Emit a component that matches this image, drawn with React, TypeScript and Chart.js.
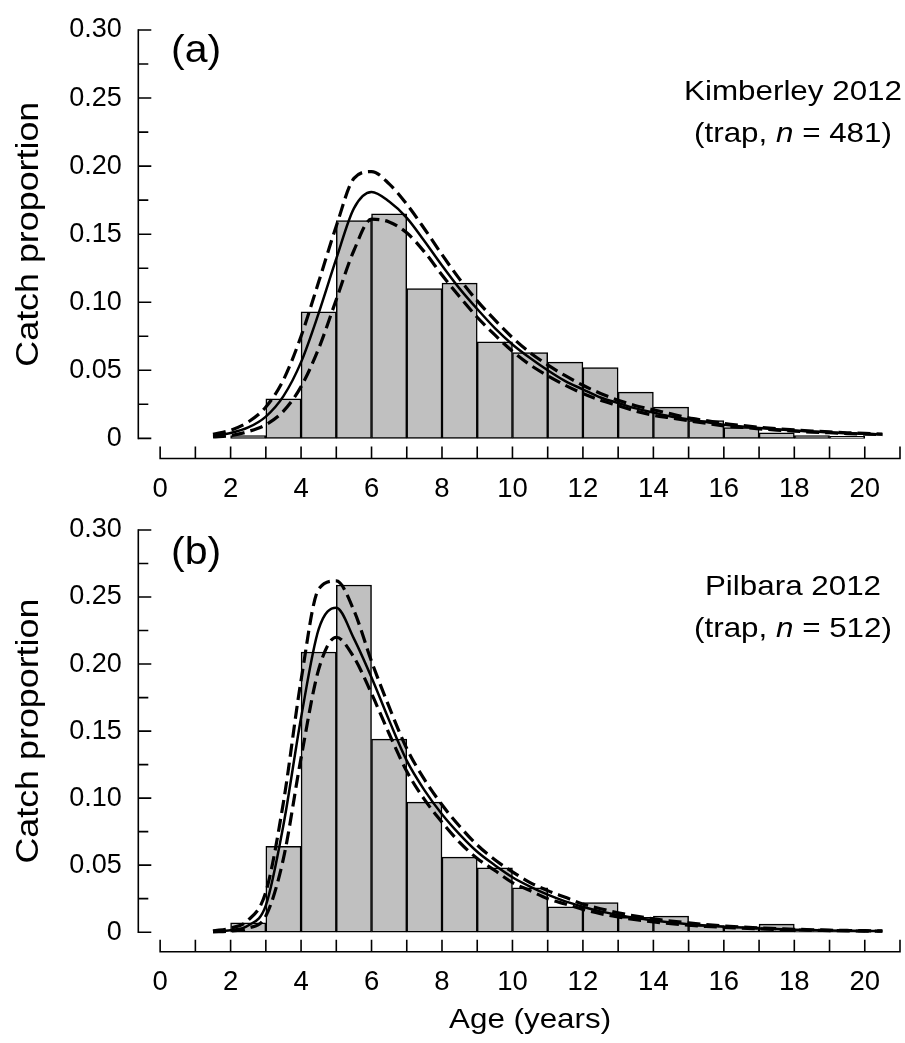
import React, { useEffect, useRef } from "react";
import { Chart, registerables } from "chart.js";

Chart.register(...registerables);

const FONT = "'Liberation Sans', Arial, sans-serif";

// ---- data ----
const binStarts = [2, 3, 4, 5, 6, 7, 8, 9, 10, 11, 12, 13, 14, 15, 16, 17, 18, 19];
const kimberleyProp = [0.002, 0.029, 0.093, 0.160, 0.165, 0.110, 0.114, 0.071, 0.063, 0.056, 0.052, 0.034, 0.023, 0.013, 0.008, 0.004, 0.002, 0.0015];
const pilbaraProp = [0.007, 0.064, 0.209, 0.259, 0.144, 0.097, 0.056, 0.048, 0.033, 0.019, 0.022, 0.011, 0.012, 0.005, 0.004, 0.006, 0.002, 0.001];

const fitAges = [1.5, 2, 2.5, 3, 3.5, 4, 4.5, 5, 5.5, 6, 6.5, 7, 7.5, 8, 8.5, 9, 9.5, 10, 10.5, 11, 11.5, 12, 12.5, 13, 13.5, 14, 14.5, 15, 15.5, 16, 16.5, 17, 17.5, 18, 18.5, 19, 19.5, 20, 20.5];

const kimberleyFit = [0.002, 0.004, 0.008, 0.016, 0.031, 0.056, 0.092, 0.132, 0.169, 0.181, 0.174, 0.162, 0.145, 0.127, 0.110, 0.095, 0.081, 0.069, 0.059, 0.050, 0.042, 0.036, 0.030, 0.026, 0.022, 0.019, 0.016, 0.014, 0.012, 0.010, 0.0088, 0.0076, 0.0066, 0.0057, 0.0050, 0.0044, 0.0038, 0.0033, 0.0029];
const kimberleyUpper = [0.003, 0.006, 0.012, 0.023, 0.043, 0.075, 0.115, 0.156, 0.191, 0.196, 0.187, 0.172, 0.154, 0.135, 0.117, 0.101, 0.087, 0.074, 0.063, 0.054, 0.046, 0.039, 0.033, 0.028, 0.024, 0.021, 0.018, 0.015, 0.013, 0.011, 0.0095, 0.0082, 0.0071, 0.0062, 0.0054, 0.0047, 0.0041, 0.0036, 0.0031];
const kimberleyLower = [0.001, 0.002, 0.005, 0.010, 0.020, 0.038, 0.066, 0.102, 0.138, 0.161, 0.159, 0.151, 0.137, 0.120, 0.104, 0.089, 0.076, 0.064, 0.054, 0.046, 0.039, 0.033, 0.028, 0.024, 0.020, 0.017, 0.015, 0.013, 0.011, 0.0092, 0.0081, 0.0070, 0.0061, 0.0053, 0.0046, 0.0041, 0.0035, 0.0031, 0.0027];

const pilbaraFit = [0.0005, 0.0015, 0.005, 0.020, 0.080, 0.160, 0.226, 0.242, 0.219, 0.190, 0.158, 0.128, 0.106, 0.088, 0.073, 0.060, 0.050, 0.041, 0.034, 0.028, 0.023, 0.019, 0.0155, 0.0128, 0.0105, 0.0087, 0.0072, 0.0060, 0.0050, 0.0041, 0.0034, 0.0028, 0.0023, 0.0019, 0.0016, 0.0013, 0.0011, 0.0009, 0.0008];
const pilbaraUpper = [0.001, 0.003, 0.009, 0.030, 0.097, 0.188, 0.256, 0.262, 0.240, 0.202, 0.168, 0.137, 0.114, 0.095, 0.079, 0.065, 0.054, 0.045, 0.037, 0.031, 0.026, 0.021, 0.0175, 0.0145, 0.012, 0.0099, 0.0083, 0.0069, 0.0057, 0.0047, 0.0039, 0.0032, 0.0027, 0.0022, 0.0018, 0.0015, 0.0013, 0.0011, 0.0009];
const pilbaraLower = [0.0002, 0.0008, 0.003, 0.012, 0.055, 0.130, 0.196, 0.220, 0.205, 0.178, 0.148, 0.120, 0.099, 0.082, 0.067, 0.055, 0.046, 0.037, 0.031, 0.025, 0.021, 0.017, 0.0138, 0.0113, 0.0093, 0.0077, 0.0063, 0.0052, 0.0043, 0.0036, 0.0030, 0.0025, 0.0020, 0.0017, 0.0014, 0.0012, 0.0010, 0.0008, 0.0007];

const xTickLabels = [0, 2, 4, 6, 8, 10, 12, 14, 16, 18, 20];
const xTickMarks = [0, 1, 2, 3, 4, 5, 6, 7, 8, 9, 10, 11, 12, 13, 14, 15, 16, 17, 18, 19, 20, 21];
const yTickLabels = [0, 0.05, 0.10, 0.15, 0.20, 0.25, 0.30];
const yMinorTicks = [0.025, 0.075, 0.125, 0.175, 0.225, 0.275];

interface PanelSpec {
  height: number;
  padTop: number;
  xAxisHeight: number;
  yMin: number;
  tag: string;
  tagBaseline: number;
  site: string;
  n: string;
  siteBaseline1: number;
  siteBaseline2: number;
  showXTitle: boolean;
  xTitleBaseline: number;
  bars: number[];
  fit: number[];
  upper: number[];
  lower: number[];
}

function stretchText(ctx: CanvasRenderingContext2D, parts: { t: string; f: string }[], cx: number, y: number, sx: number, align: "center" | "left") {
  let total = 0;
  const widths = parts.map((p) => {
    ctx.font = p.f;
    const w = ctx.measureText(p.t).width;
    total += w;
    return w;
  });
  ctx.save();
  ctx.translate(cx, y);
  ctx.scale(sx, 1);
  ctx.textAlign = "left";
  ctx.textBaseline = "alphabetic";
  let x = align === "center" ? -total / 2 : 0;
  parts.forEach((p, i) => {
    ctx.font = p.f;
    ctx.fillText(p.t, x, 0);
    x += widths[i];
  });
  ctx.restore();
}

function makePlugin(spec: PanelSpec) {
  return {
    id: "sigmaAxes",
    afterDraw(chart: any) {
      const ctx: CanvasRenderingContext2D = chart.ctx;
      const xs = chart.scales.x;
      const ys = chart.scales.y;
      const left = chart.chartArea.left;
      const bottom = chart.chartArea.bottom;
      ctx.save();
      ctx.strokeStyle = "#000";
      ctx.lineWidth = 1.6;
      ctx.lineCap = "butt";
      // y axis
      const yZero = ys.getPixelForValue(0);
      const yTop = ys.getPixelForValue(0.3);
      ctx.beginPath();
      ctx.moveTo(left, yTop - 0.8);
      ctx.lineTo(left, yZero + 0.8);
      ctx.stroke();
      ctx.beginPath();
      yTickLabels.forEach((v) => {
        const p = ys.getPixelForValue(v);
        ctx.moveTo(left, p);
        ctx.lineTo(left + 13, p);
      });
      yMinorTicks.forEach((v) => {
        const p = ys.getPixelForValue(v);
        ctx.moveTo(left, p);
        ctx.lineTo(left + 10, p);
      });
      ctx.stroke();
      // x axis
      const x0 = xs.getPixelForValue(0);
      const x21 = xs.getPixelForValue(21);
      ctx.beginPath();
      ctx.moveTo(x0 - 0.8, bottom);
      ctx.lineTo(x21 + 0.8, bottom);
      xTickMarks.forEach((v) => {
        const p = xs.getPixelForValue(v);
        ctx.moveTo(p, bottom);
        ctx.lineTo(p, bottom - 12);
      });
      ctx.stroke();

      ctx.fillStyle = "#000";
      // y title
      const midY = (yZero + yTop) / 2;
      ctx.save();
      ctx.translate(38, midY);
      ctx.rotate(-Math.PI / 2);
      stretchText(ctx, [{ t: "Catch proportion", f: `32px ${FONT}` }], 0, 0, 1.12, "center");
      ctx.restore();

      // panel tag
      stretchText(ctx, [{ t: spec.tag, f: `38px ${FONT}` }], 171, spec.tagBaseline, 1.08, "left");

      // site text
      const cx = 793;
      stretchText(ctx, [{ t: spec.site, f: `28px ${FONT}` }], cx, spec.siteBaseline1, 1.12, "center");
      stretchText(
        ctx,
        [
          { t: "(trap, ", f: `28px ${FONT}` },
          { t: "n", f: `italic 28px ${FONT}` },
          { t: " = " + spec.n + ")", f: `28px ${FONT}` },
        ],
        cx,
        spec.siteBaseline2,
        1.12,
        "center"
      );

      if (spec.showXTitle) {
        stretchText(ctx, [{ t: "Age (years)", f: `27.5px ${FONT}` }], (x0 + x21) / 2, spec.xTitleBaseline, 1.14, "center");
      }
      ctx.restore();
    },
  };
}

function buildConfig(spec: PanelSpec): any {
  const line = (vals: number[], dashed: boolean) => ({
    type: "line",
    data: fitAges.map((x, i) => ({ x, y: vals[i] })),
    borderColor: "#000",
    borderWidth: dashed ? 3.2 : 2.5,
    borderDash: dashed ? [13, 6] : [],
    pointRadius: 0,
    fill: false,
    cubicInterpolationMode: "monotone",
    order: 0,
  });
  return {
    type: "bar",
    data: {
      datasets: [
        line(spec.fit, false),
        line(spec.upper, true),
        line(spec.lower, true),
        {
          type: "bar",
          data: binStarts.map((s, i) => ({ x: s + 0.5, y: spec.bars[i] })),
          backgroundColor: "#c0c0c0",
          borderColor: "#000",
          borderWidth: 1.5,
          borderSkipped: false,
          barPercentage: 1,
          categoryPercentage: 1,
          order: 1,
        },
      ],
    },
    options: {
      animation: false,
      responsive: false,
      maintainAspectRatio: false,
      layout: { padding: { top: spec.padTop, right: 5, left: 0, bottom: 0 } },
      plugins: { legend: { display: false }, tooltip: { enabled: false }, title: { display: false } },
      scales: {
        x: {
          type: "linear",
          offset: false,
          min: -0.62,
          max: 21,
          grid: { display: false, drawTicks: false },
          border: { display: false },
          afterBuildTicks: (s: any) => {
            s.ticks = xTickLabels.map((v) => ({ value: v }));
          },
          afterFit: (s: any) => {
            s.height = spec.xAxisHeight;
          },
          ticks: {
            color: "#000",
            font: { family: FONT, size: 27.5, lineHeight: 1.2 },
            padding: 14,
            maxRotation: 0,
            autoSkip: false,
            callback: (v: any) => String(v),
          },
        },
        y: {
          type: "linear",
          min: spec.yMin,
          max: 0.3,
          grid: { display: false, drawTicks: false },
          border: { display: false },
          afterBuildTicks: (s: any) => {
            s.ticks = yTickLabels.map((v) => ({ value: v }));
          },
          afterFit: (s: any) => {
            s.width = 138.3;
          },
          ticks: {
            color: "#000",
            font: { family: FONT, size: 27, lineHeight: 1 },
            padding: 16.5,
            autoSkip: false,
            callback: (v: any) => (Number(v) === 0 ? "0" : Number(v).toFixed(2)),
          },
        },
      },
    },
    plugins: [makePlugin(spec)],
  };
}

const panelA: PanelSpec = {
  height: 500,
  padTop: 28.3,
  xAxisHeight: 41.5,
  yMin: -0.0148,
  tag: "(a)",
  tagBaseline: 62.2,
  site: "Kimberley 2012",
  n: "481",
  siteBaseline1: 100,
  siteBaseline2: 141.5,
  showXTitle: false,
  xTitleBaseline: 0,
  bars: kimberleyProp,
  fit: kimberleyFit,
  upper: kimberleyUpper,
  lower: kimberleyLower,
};

const panelB: PanelSpec = {
  height: 543,
  padTop: 19.5,
  xAxisHeight: 91.3,
  yMin: -0.01456,
  tag: "(b)",
  tagBaseline: 63.9,
  site: "Pilbara 2012",
  n: "512",
  siteBaseline1: 95,
  siteBaseline2: 136.5,
  showXTitle: true,
  xTitleBaseline: 528,
  bars: pilbaraProp,
  fit: pilbaraFit,
  upper: pilbaraUpper,
  lower: pilbaraLower,
};

function Panel({ spec }: { spec: PanelSpec }) {
  const ref = useRef<HTMLCanvasElement>(null);
  useEffect(() => {
    const chart = new Chart(ref.current as HTMLCanvasElement, buildConfig(spec));
    return () => chart.destroy();
  }, [spec]);
  return <canvas ref={ref} width={905} height={spec.height} style={{ display: "block", width: 905, height: spec.height }} />;
}

export default function App() {
  return (
    <div style={{ position: "absolute", left: 0, top: 0, width: 905, height: 1043, background: "#fff" }}>
      <Panel spec={panelA} />
      <Panel spec={panelB} />
    </div>
  );
}
